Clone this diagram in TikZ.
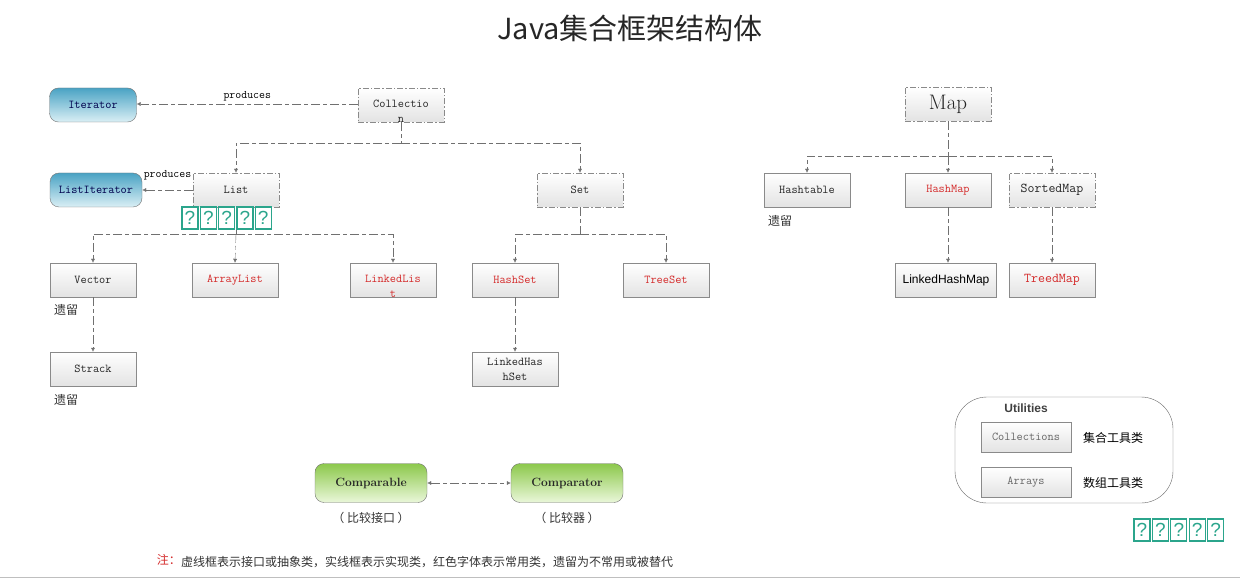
\documentclass[tikz,border=0pt]{standalone}
\usepackage{fontspec}
\newfontfamily\cjk{Noto Sans CJK SC}
\newfontfamily\arialfont{Liberation Sans}
\usetikzlibrary{arrows.meta}

\definecolor{linegray}{HTML}{707070}
\definecolor{boxgray}{HTML}{8A8A8A}
\definecolor{hotred}{HTML}{D42A2A}
\definecolor{itertop}{HTML}{4AA3C4}
\definecolor{iterbot}{HTML}{DAEFF5}
\definecolor{cmptop}{HTML}{8CC84B}
\definecolor{cmpbot}{HTML}{EAF7DA}
\definecolor{tofu}{HTML}{2BA58C}

\tikzset{
  impl/.style={rectangle, draw=boxgray, top color=white, bottom color=black!11,
    minimum width=86pt, minimum height=34pt, inner sep=1pt, text=black!85,
    font=\ttfamily\fontsize{12}{15}\selectfont},
  iface/.style={impl, dash pattern=on 6pt off 2pt on 1.5pt off 2pt},
  hot/.style={text=hotred},
  hang/.style={text height=8pt, text depth=2.5pt},
  isub/.style={rectangle, rounded corners=9pt, draw=black!55, top color=itertop,
    bottom color=iterbot, minimum height=34pt, inner sep=1pt, text=black!70!blue,
    font=\ttfamily\fontsize{12}{15}\selectfont},
  cmpbox/.style={rectangle, rounded corners=9pt, draw=black!55, top color=cmptop,
    bottom color=cmpbot, minimum width=112pt, minimum height=39pt, text=black!85,
    font=\bfseries\fontsize{12}{14}\selectfont},
  line/.style={draw=linegray, dash pattern=on 9pt off 3pt on 4pt off 3pt},
  conn/.style={line, -{Latex[length=4pt,width=4pt]}},
  note/.style={font=\cjk\fontsize{12}{14}\selectfont, text=black!80, inner sep=0pt},
  tofubox/.style={rectangle, draw=tofu, line width=1.3pt, minimum width=16pt,
    minimum height=22pt, inner sep=0pt, text=tofu, font=\arialfont\fontsize{19}{20}\selectfont},
}

\begin{document}
\begin{tikzpicture}[x=1pt,y={(0pt,-1pt)}]
  \useasboundingbox (0,0) rectangle (1240,580);
  % title
  \node[font=\cjk\fontsize{29}{32}\selectfont, text=black!85] (title) at (630,28) {Java集合框架结构体};

  % Collection side
  \node[iface, hang] (coll) at (401,105) {\begin{tabular}[t]{@{}c@{}}Collectio\\n\end{tabular}};
  \node[isub, minimum width=87pt] (iter) at (93,105) {Iterator};
  \node[iface] (list) at (236,190) {List};
  \node[isub, minimum width=92pt] (liter) at (96,190) {ListIterator};
  \node[iface] (set) at (580,190) {Set};
  \node[impl] (vec) at (93,280) {Vector};
  \node[impl, hot] (alist) at (235,280) {ArrayList};
  \node[impl, hot, hang] (llist) at (393,280) {\begin{tabular}[t]{@{}c@{}}LinkedLis\\t\end{tabular}};
  \node[impl] (strack) at (93,369) {Strack};
  \node[impl, hot] (hset) at (515,280) {HashSet};
  \node[impl, hot] (tset) at (666,280) {TreeSet};
  \node[impl, align=center] (lhset) at (515,369) {LinkedHas\\hSet};
  \node[note] (old1) at (66,310) {遗留};
  \node[note] (old2) at (66,400) {遗留};

  \coordinate (cbus) at (401,143);
  \coordinate (lbus) at (236,234);
  \coordinate (sbus) at (580,234);
  \draw[conn] (coll.west |- 0,104) -- node[above=-1pt, font=\ttfamily\fontsize{11.5}{12}\selectfont] (prod1) {produces} (iter.east |- 0,104);
  \draw[conn] (list.west) -- node[above=6pt, font=\ttfamily\fontsize{11.5}{12}\selectfont] (prod2) {produces} (liter.east);
  \draw[line] (coll.south) -- (cbus);
  \draw[conn] (cbus) -| (list.north);
  \draw[conn] (cbus) -| (set.north);
  \draw[line] (list.south) -- (lbus);
  \draw[conn] (lbus) -| (vec.north);
  \draw[conn] (lbus) -- (alist.north);
  \draw[conn] (lbus) -| (llist.north);
  \draw[line] (set.south) -- (sbus);
  \draw[conn] (sbus) -| (hset.north);
  \draw[conn] (sbus) -| (tset.north);
  \draw[conn] (vec) -- (strack);
  \draw[conn] (hset) -- (lhset);

  % Map side
  \node[iface, font=\rmfamily\fontsize{21}{23}\selectfont] (map) at (948,104) {Map};
  \node[impl] (htab) at (807,190) {Hashtable};
  \node[impl, hot] (hmap) at (948,190) {HashMap};
  \node[iface, font=\ttfamily\fontsize{13.5}{15}\selectfont] (smap) at (1052,190) {SortedMap};
  \node[impl, minimum width=101pt, font=\arialfont\fontsize{12}{14}\selectfont, text=black] (lhmap) at (946,280) {LinkedHashMap};
  \node[impl, hot, font=\ttfamily\fontsize{13.5}{15}\selectfont] (tmap) at (1052,280) {TreedMap};
  \node[note] (old3) at (780,221) {遗留};

  \coordinate (mbus) at (948,156);
  \draw[line] (map.south) -- (mbus);
  \draw[conn] (mbus) -| (htab.north);
  \draw[conn] (mbus) -- (hmap.north);
  \draw[conn] (mbus) -| (smap.north);
  \draw[conn] (hmap.south) -- (hmap.south |- lhmap.north);
  \draw[conn] (smap) -- (tmap);

  % tofu marks
  \foreach \i in {0,...,4}
    \node[tofubox] (qa\i) at ({190+18.3*\i},218) {?};
  \foreach \i in {0,...,4}
    \node[tofubox] (qb\i) at ({1142+18.4*\i},530) {?};

  % utilities
  \node[draw=black!60, rounded corners=32pt, minimum width=218pt, minimum height=106pt] (util) at (1064,450) {};
  \node[font=\arialfont\bfseries\fontsize{12}{14}\selectfont, text=black!75] (utitle) at (1026,408) {Utilities};
  \node[impl, minimum width=90pt, minimum height=30pt, text=black!60] (colls) at (1026,437) {Collections};
  \node[impl, minimum width=90pt, minimum height=30pt, text=black!60] (arrs) at (1026,482) {Arrays};
  \node[note, text=black] (ctool) at (1113,438) {集合工具类};
  \node[note, text=black] (atool) at (1113,483) {数组工具类};

  % comparators
  \node[cmpbox] (cmp) at (371,483) {Comparable};
  \node[cmpbox] (cmpr) at (567,483) {Comparator};
  \draw[line, {Latex[length=4pt,width=4pt]}-{Latex[length=4pt,width=4pt]}] (cmp) -- (cmpr);
  \node[note] (cmpnote) at (371,518) {（ 比较接口 ）};
  \node[note] (cmprnote) at (567,518) {（ 比较器 ）};

  % legend
  \node[note, text=hotred, anchor=east] (zhu) at (181,560) {注：};
  \node[note, anchor=west] (legend) at (181,562) {虚线框表示接口或抽象类，实线框表示实现类，红色字体表示常用类，遗留为不常用或被替代};
  \draw[black!25] (0,577) -- (1240,577);
\end{tikzpicture}
\end{document}
